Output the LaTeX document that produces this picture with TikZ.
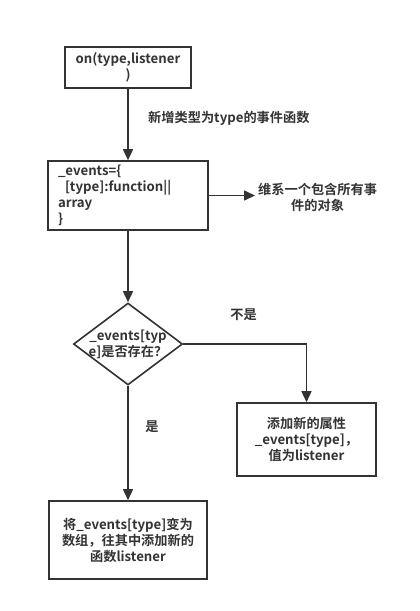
\documentclass[tikz,border=0pt]{standalone}
\usepackage{fontspec}
\usepackage{tikz}
\usetikzlibrary{positioning,shapes.geometric,arrows.meta}
\newfontfamily\cjk{Noto Sans CJK SC}[BoldFont={Noto Sans CJK SC Bold}]
\definecolor{FlowLine}{HTML}{333333}
\definecolor{FlowText}{HTML}{333333}

\begin{document}
\begin{tikzpicture}[x=1pt,y=-1pt,
    box/.style={draw=FlowLine,line width=1.6pt,fill=white,inner sep=0pt,
      font=\cjk\bfseries\fontsize{13.2}{16}\selectfont,text=FlowText,align=center},
    flow/.style={draw=FlowLine,line width=1.6pt,-{Triangle[length=11pt,width=10pt]}},
    note/.style={font=\cjk\bfseries\fontsize{13.2}{16}\selectfont,text=FlowText,inner sep=0pt,align=center}]
  \useasboundingbox (0,0) rectangle (420,611);
  \node[box,minimum width=126pt,minimum height=41pt] (on) at (128,67.5) {on(type,listener\\)};
  \node[box,minimum width=160pt,minimum height=69pt,align=left,text width=140pt] (ev) at (128,195.5)
    {\_events=\{\\\hspace*{7pt}[type]:function||\\array\\\}};
  \node[note,anchor=west] (obj) at (258,197) {维系一个包含所有事\\件的对象};
  \node[draw=FlowLine,line width=1.6pt,diamond,inner sep=0pt,
    minimum width=109pt,minimum height=82pt] (chk) at (128,344) {};
  \node[note] (chktext) at (chk.center) {\_events[typ\\e]是否存在？};
  \node[box,minimum width=139pt,minimum height=73pt] (add) at (306.5,439.5)
    {添加新的属性\\\_events[type]，\\值为listener};
  \node[box,minimum width=158pt,minimum height=78pt] (arr) at (128,540)
    {将\_events[type]变为\\数组，往其中添加新的\\函数listener};
  \node[note,anchor=west] (lblnew) at (148,118) {新增类型为type的事件函数};
  \node[note] (lblno) at (243.5,315) {不是};
  \node[note] (lblyes) at (152,427) {是};
  % connectors
  \draw[flow] (on) -- (ev);
  \draw[flow,shorten >=3pt] (ev.east) -- (ev.east -| obj.west);
  \draw[flow] (ev) -- (chk);
  \draw[flow] (chk.east) -| (add.north);
  \draw[flow] (chk) -- (arr);
\end{tikzpicture}
\end{document}
